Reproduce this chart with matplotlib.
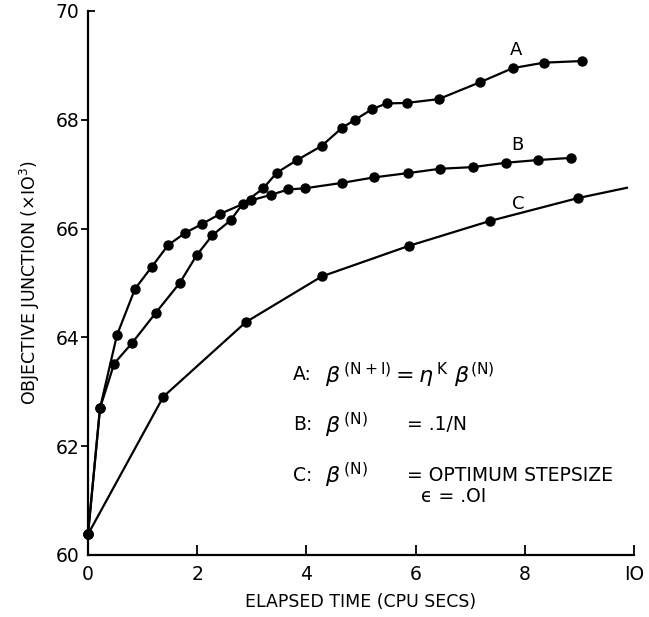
import numpy as np
import matplotlib
matplotlib.use('Agg')
import matplotlib.pyplot as plt
import matplotlib.lines as mlines

plt.rcParams['font.family'] = ['DejaVu Sans']
plt.rcParams['mathtext.fontset'] = 'dejavusans'

# Curve A: beta(N+1) = eta^K beta(N)
a_time = [0.0, 0.22, 0.48, 0.81, 1.24, 1.68, 1.99, 2.28, 2.61, 2.83, 3.21, 3.46,
          3.83, 4.28, 4.65, 4.89, 5.21, 5.47, 5.84, 6.42, 7.18, 7.78, 8.35, 9.05]
a_obj = [60.38, 62.70, 63.52, 63.90, 64.45, 65.00, 65.51, 65.88, 66.15, 66.45, 66.74, 67.03,
         67.26, 67.52, 67.85, 68.00, 68.20, 68.30, 68.31, 68.38, 68.69, 68.95, 69.05, 69.08]

# Curve B: beta(N) = .1/N
b_time = [0.0, 0.22, 0.53, 0.86, 1.17, 1.47, 1.78, 2.08, 2.42, 2.99, 3.35, 3.67,
          3.97, 4.65, 5.23, 5.86, 6.45, 7.05, 7.65, 8.24, 8.85]
b_obj = [60.38, 62.70, 64.04, 64.89, 65.30, 65.70, 65.92, 66.08, 66.27, 66.52, 66.62, 66.72,
         66.74, 66.84, 66.94, 67.02, 67.10, 67.13, 67.21, 67.26, 67.30]

# Curve C: optimum stepsize (last point has no marker)
c_time = [0.0, 1.38, 2.89, 4.28, 5.87, 7.36, 8.97, 9.87]
c_obj = [60.38, 62.91, 64.28, 65.12, 65.68, 66.14, 66.56, 66.75]

fig = plt.figure(figsize=(6.49, 6.17), dpi=100)
ax = fig.add_axes([0.1356, 0.1005, 0.8413, 0.8817])

kw = dict(color='black', lw=1.6, marker='o', markersize=6.5, clip_on=False)
ax.plot(a_time, a_obj, **kw)
ax.plot(b_time, b_obj, **kw)
ax.plot(c_time, c_obj, color='black', lw=1.6, clip_on=False)
ax.plot(c_time[:-1], c_obj[:-1], ls='none', marker='o', markersize=6.5,
        color='black', clip_on=False)

ax.set_xlim(0, 10)
ax.set_ylim(60, 70)
ax.set_xticks([0, 2, 4, 6, 8, 10])
ax.set_xticklabels(['0', '2', '4', '6', '8', 'IO'])
ax.set_yticks([60, 62, 64, 66, 68, 70])

for s in ['top', 'right']:
    ax.spines[s].set_visible(False)
for s in ['left', 'bottom']:
    ax.spines[s].set_linewidth(1.6)

ax.tick_params(axis='x', direction='in', length=7, width=1.3, labelsize=13.5, pad=7)
ax.tick_params(axis='y', direction='out', length=5, width=1.3, labelsize=13.5, pad=1)
ax.yaxis.get_major_ticks()[-1].tick1line.set_marker(mlines.TICKRIGHT)
ax.yaxis.get_major_ticks()[0].tick1line.set_visible(False)

ax.set_xlabel('ELAPSED TIME (CPU SECS)', fontsize=12.5, labelpad=7)
ax.set_ylabel(r'OBJECTIVE JUNCTION ($\times$IO$^3$)', fontsize=12.5, labelpad=10)

# curve labels
ax.text(7.84, 69.28, 'A', fontsize=13, ha='center', va='center')
ax.text(7.86, 67.54, 'B', fontsize=13, ha='center', va='center')
ax.text(7.88, 66.45, 'C', fontsize=13, ha='center', va='center')

# key
fs = 13.5
ax.text(3.75, 63.31, 'A:', fontsize=fs, va='center')
ax.text(4.34, 63.31, r'$\beta^{\,(\mathrm{N+I})} = \eta^{\,\mathrm{K}}\ \beta^{(\mathrm{N})}$',
        fontsize=fs + 2.5, va='center')
ax.text(3.75, 62.39, 'B:', fontsize=fs, va='center')
ax.text(4.34, 62.39, r'$\beta^{\,(\mathrm{N})}$', fontsize=fs + 2.5, va='center')
ax.text(5.84, 62.39, '= .1/N', fontsize=fs, va='center')
ax.text(3.75, 61.46, 'C:', fontsize=fs, va='center')
ax.text(4.34, 61.46, r'$\beta^{\,(\mathrm{N})}$', fontsize=fs + 2.5, va='center')
ax.text(5.84, 61.46, '= OPTIMUM STEPSIZE', fontsize=fs, va='center')
ax.text(6.1, 61.07, '\u03f5 = .OI', fontsize=fs, va='center')

fig.savefig('out.png', dpi=100)
